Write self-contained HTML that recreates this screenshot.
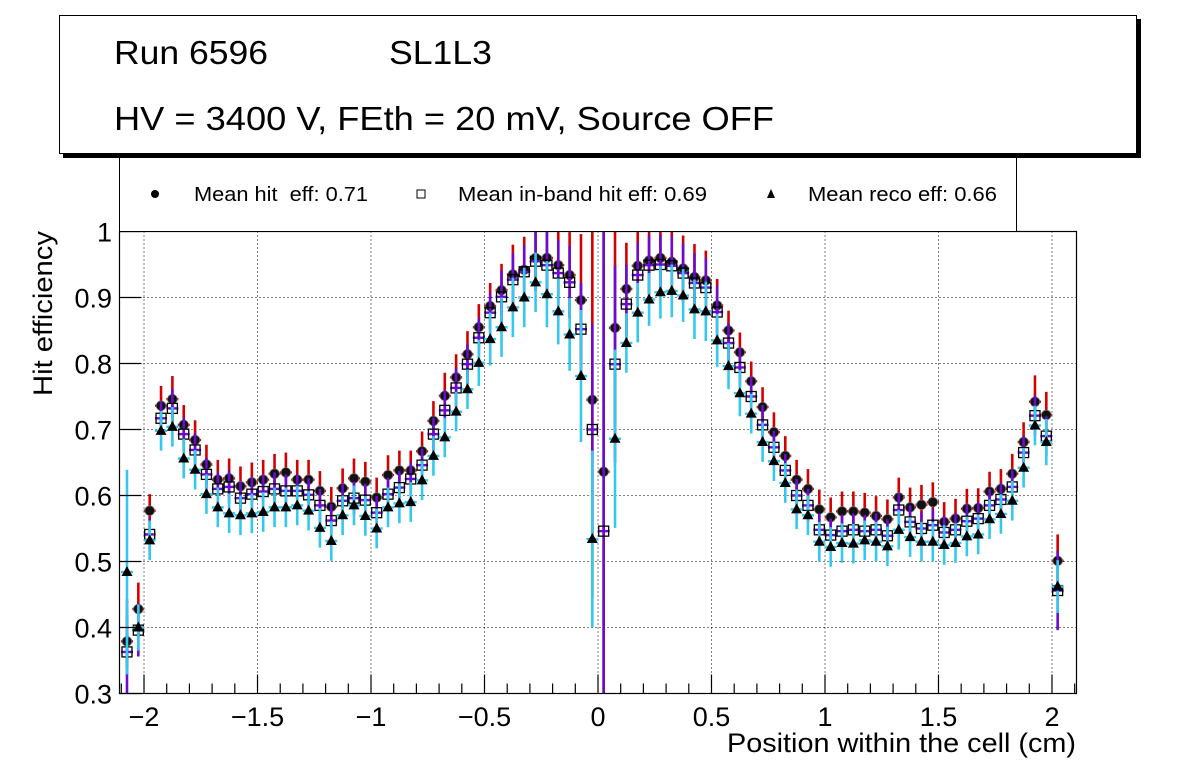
<!DOCTYPE html>
<html><head><meta charset="utf-8"><style>
html,body{margin:0;padding:0;background:#fff;}
svg{display:block;font-family:"Liberation Sans",Arial,sans-serif;}
</style></head><body>
<svg id="chart" width="1196" height="772" viewBox="0 0 1196 772">
  <rect x="0" y="0" width="1196" height="772" fill="#fff"/>
  <g id="grid"></g>
  <g id="series"></g>
  <rect x="119.5" y="231.5" width="957" height="462" fill="none" stroke="#000" stroke-width="1.2"/>
  <g id="axes"></g>
  <text x="1076" y="752" font-size="27" text-anchor="end" textLength="349" lengthAdjust="spacingAndGlyphs">Position within the cell (cm)</text>
  <text transform="translate(52,231) rotate(-90)" font-size="27" text-anchor="end" textLength="165" lengthAdjust="spacingAndGlyphs">Hit efficiency</text>
  <g>
    <rect x="119.5" y="157.5" width="897" height="74" fill="#fff" stroke="#000" stroke-width="1"/>
    <circle cx="155" cy="194" r="4" fill="#000"/>
    <text x="194" y="201" font-size="20" textLength="174" lengthAdjust="spacingAndGlyphs" xml:space="preserve">Mean hit  eff: 0.71</text>
    <rect x="417" y="190" width="8" height="8" fill="none" stroke="#000" stroke-width="1"/>
    <text x="458" y="201" font-size="20" textLength="249" lengthAdjust="spacingAndGlyphs">Mean in-band hit eff: 0.69</text>
    <polygon points="771,189 775,198 767,198" fill="#000"/>
    <text x="808" y="201" font-size="20" textLength="189" lengthAdjust="spacingAndGlyphs">Mean reco eff: 0.66</text>
  </g>
  <g>
    <rect x="63" y="19" width="1078" height="139" fill="#000"/>
    <rect x="59.5" y="15.5" width="1077" height="138" fill="#fff" stroke="#000" stroke-width="1"/>
    <text x="114" y="64" font-size="33" textLength="154" lengthAdjust="spacingAndGlyphs">Run 6596</text>
    <text x="389" y="64" font-size="33" textLength="103" lengthAdjust="spacingAndGlyphs">SL1L3</text>
    <text x="114" y="130" font-size="33" textLength="660" lengthAdjust="spacingAndGlyphs">HV = 3400 V, FEth = 20 mV, Source OFF</text>
  </g>
</svg>
<script>
const hitEff = [0.379,0.428,0.577,0.736,0.746,0.707,0.684,0.647,0.624,0.626,
0.614,0.620,0.624,0.633,0.635,0.624,0.624,0.607,0.583,0.611,
0.626,0.621,0.597,0.631,0.638,0.638,0.667,0.713,0.751,0.779,
0.814,0.855,0.887,0.911,0.935,0.942,0.960,0.960,0.949,0.934,
0.896,0.745,0.636,0.854,0.913,0.948,0.956,0.960,0.954,0.944,
0.931,0.926,0.888,0.850,0.817,0.773,0.734,0.696,0.660,0.624,
0.610,0.579,0.567,0.576,0.576,0.574,0.569,0.564,0.597,0.582,
0.586,0.590,0.560,0.565,0.580,0.581,0.606,0.610,0.633,0.681,
0.742,0.722,0.501];
const hitErr = [0.04,0.04,0.025,0.03,0.035,0.03,0.03,0.03,0.03,0.03,
0.03,0.03,0.03,0.03,0.03,0.03,0.03,0.03,0.03,0.03,
0.03,0.03,0.03,0.03,0.03,0.03,0.03,0.03,0.035,0.035,
0.035,0.035,0.035,0.04,0.045,0.05,0.05,0.055,0.06,0.065,
0.1,0.3,0.5,0.15,0.07,0.06,0.05,0.05,0.05,0.05,
0.05,0.045,0.04,0.03,0.03,0.03,0.03,0.03,0.03,0.03,
0.03,0.03,0.03,0.03,0.03,0.03,0.03,0.03,0.03,0.03,
0.03,0.03,0.03,0.03,0.03,0.03,0.03,0.03,0.03,0.03,
0.04,0.035,0.04];
const inbandEff = [0.363,0.396,0.541,0.717,0.732,0.693,0.669,0.632,0.610,0.613,
0.596,0.602,0.606,0.610,0.607,0.607,0.601,0.585,0.562,0.592,
0.596,0.593,0.574,0.602,0.612,0.625,0.646,0.693,0.729,0.763,
0.799,0.839,0.877,0.901,0.927,0.939,0.955,0.949,0.937,0.923,
0.852,0.700,0.546,0.799,0.890,0.934,0.949,0.950,0.948,0.937,
0.922,0.915,0.878,0.831,0.794,0.750,0.707,0.673,0.638,0.600,
0.585,0.548,0.540,0.546,0.548,0.546,0.548,0.539,0.578,0.560,
0.550,0.555,0.544,0.548,0.561,0.565,0.585,0.594,0.613,0.665,
0.721,0.690,0.456];
const inbandErr = [0.08,0.04,0.025,0.025,0.03,0.025,0.025,0.025,0.025,0.025,
0.025,0.025,0.025,0.025,0.025,0.025,0.025,0.025,0.025,0.025,
0.025,0.025,0.025,0.025,0.025,0.025,0.025,0.025,0.03,0.03,
0.03,0.03,0.03,0.04,0.04,0.04,0.045,0.05,0.05,0.055,
0.07,0.16,0.6,0.15,0.06,0.05,0.045,0.045,0.045,0.045,
0.045,0.045,0.04,0.03,0.03,0.03,0.03,0.025,0.025,0.025,
0.025,0.025,0.025,0.025,0.025,0.025,0.025,0.025,0.025,0.025,
0.025,0.025,0.025,0.025,0.025,0.025,0.025,0.025,0.025,0.025,
0.03,0.03,0.06];
const recoEff = [0.484,0.400,0.532,0.698,0.704,0.656,0.639,0.602,0.582,0.573,
0.570,0.573,0.575,0.582,0.582,0.585,0.577,0.551,0.531,0.570,
0.585,0.569,0.550,0.582,0.588,0.590,0.623,0.660,0.688,0.727,
0.761,0.801,0.837,0.855,0.885,0.900,0.923,0.905,0.879,0.844,
0.781,0.534,null,0.686,0.831,0.877,0.897,0.908,0.910,0.903,
0.882,0.879,0.835,0.796,0.755,0.724,0.681,0.652,0.619,0.579,
0.570,0.530,0.522,0.528,0.527,0.532,0.530,0.523,0.548,0.537,
0.530,0.530,0.525,0.528,0.538,0.541,0.564,0.572,0.592,0.642,
0.706,0.681,0.462];
const recoErr = [0.155,0.035,0.03,0.03,0.03,0.03,0.03,0.03,0.03,0.03,
0.03,0.03,0.03,0.03,0.03,0.03,0.03,0.03,0.03,0.03,
0.03,0.03,0.03,0.03,0.03,0.03,0.03,0.03,0.03,0.03,
0.03,0.035,0.04,0.045,0.045,0.045,0.045,0.05,0.05,0.055,
0.1,0.134,0.3,0.135,0.045,0.045,0.04,0.04,0.04,0.04,
0.045,0.045,0.04,0.035,0.035,0.03,0.03,0.03,0.03,0.03,
0.03,0.03,0.03,0.03,0.03,0.03,0.03,0.03,0.03,0.03,
0.03,0.03,0.03,0.03,0.03,0.03,0.03,0.03,0.03,0.03,
0.03,0.035,0.04];
const binStart = -2.075;
const binWidth = 0.05;
const xTickLabels = ["\u22122","\u22121.5","\u22121","\u22120.5","0","0.5","1","1.5","2"];
const xTickValues = [-2,-1.5,-1,-0.5,0,0.5,1,1.5,2];
const yTickLabels = ["0.3","0.4","0.5","0.6","0.7","0.8","0.9","1"];
const yTickValues = [0.3,0.4,0.5,0.6,0.7,0.8,0.9,1.0];

const NS = "http://www.w3.org/2000/svg";
const PL = 119.5, PR = 1076.5, PT = 231.5, PB = 693.5;
const XMIN = -2.108, XMAX = 2.108, YMIN = 0.3, YMAX = 1.0;
function xs(v){ return PL + (v - XMIN) / (XMAX - XMIN) * (PR - PL); }
function ys(v){ return PB - (v - YMIN) / (YMAX - YMIN) * (PB - PT); }
function mk(tag, attrs, parent){
  const e = document.createElementNS(NS, tag);
  for (const k in attrs) e.setAttribute(k, attrs[k]);
  parent.appendChild(e);
  return e;
}
const grid = document.getElementById('grid');
const axes = document.getElementById('axes');
const series = document.getElementById('series');

xTickValues.forEach((v, i) => {
  const x = xs(v);
  const g = mk('line', {x1:x, x2:x, y1:PT, y2:PB, stroke:'#000', 'stroke-width':1, 'stroke-dasharray':'1,3'}, grid);
  
  
  const t = mk('line', {x1:x, x2:x, y1:PB, y2:PB-19, stroke:'#000', 'stroke-width':1.2}, axes);
  
  
  const lb = mk('text', {x:x, y:726, 'font-size':27, 'text-anchor':'middle'}, axes);
  lb.textContent = xTickLabels[i];
  
  
});
for (let m = -2.1; m <= 2.1001; m += 0.1) {
  const mv = Math.round(m * 10) / 10;
  if (Math.abs(mv * 2 - Math.round(mv * 2)) < 1e-6) continue;
  const x = xs(mv);
  const t = mk('line', {x1:x, x2:x, y1:PB, y2:PB-10, stroke:'#000', 'stroke-width':1.2}, axes);
  
  
}
yTickValues.forEach((v, i) => {
  const y = ys(v);
  if (i > 0 && i < yTickValues.length - 1) {
    const g = mk('line', {x1:PL, x2:PR, y1:y, y2:y, stroke:'#000', 'stroke-width':1, 'stroke-dasharray':'1,3'}, grid);
    
    
  }
  const t = mk('line', {x1:PL, x2:PL+22, y1:y, y2:y, stroke:'#000', 'stroke-width':1.2}, axes);
  
  
  const lb = mk('text', {x:112, y:y+10, 'font-size':27, 'text-anchor':'end'}, axes);
  lb.textContent = yTickLabels[i];
  
  
});

function clampY(v){ return Math.max(PT, Math.min(PB, ys(v))); }
function drawSeries(vals, errs, color, kind, name){
  const g = mk('g', {}, series);
  
  
  vals.forEach((v, i) => {
    const x = xs(binStart + binWidth * i);
    const e = errs[i];
    if (v === null) return;
    const b = mk('line', {x1:x, x2:x, y1:clampY(v + e), y2:clampY(v - e), stroke:color, 'stroke-width':2.6}, g);
    
    
    const y = ys(v);
    if (y < PT || y > PB) return;
    const h = mk('line', {x1:x-6, x2:x+6, y1:y, y2:y, stroke:color, 'stroke-width':2.4}, g);
    
    
    let m;
    if (kind === 'circle') {
      m = mk('circle', {cx:x, cy:y, r:4.8, fill:'#111', stroke:'#666', 'stroke-width':0.8}, g);
    } else if (kind === 'square') {
      m = mk('rect', {x:x-5, y:y-5, width:10, height:10, fill:'none', stroke:'#000', 'stroke-width':1.3}, g);
    } else {
      m = mk('polygon', {points:(x)+','+(y-6)+' '+(x+5.5)+','+(y+4)+' '+(x-5.5)+','+(y+4), fill:'#000'}, g);
    }
    
    
  });
}
drawSeries(hitEff, hitErr, '#d40000', 'circle', 'hit-eff');
drawSeries(inbandEff, inbandErr, '#6a0cd0', 'square', 'inband-eff');
drawSeries(recoEff, recoErr, '#33c8f0', 'triangle', 'reco-eff');
</script>
</body></html>
